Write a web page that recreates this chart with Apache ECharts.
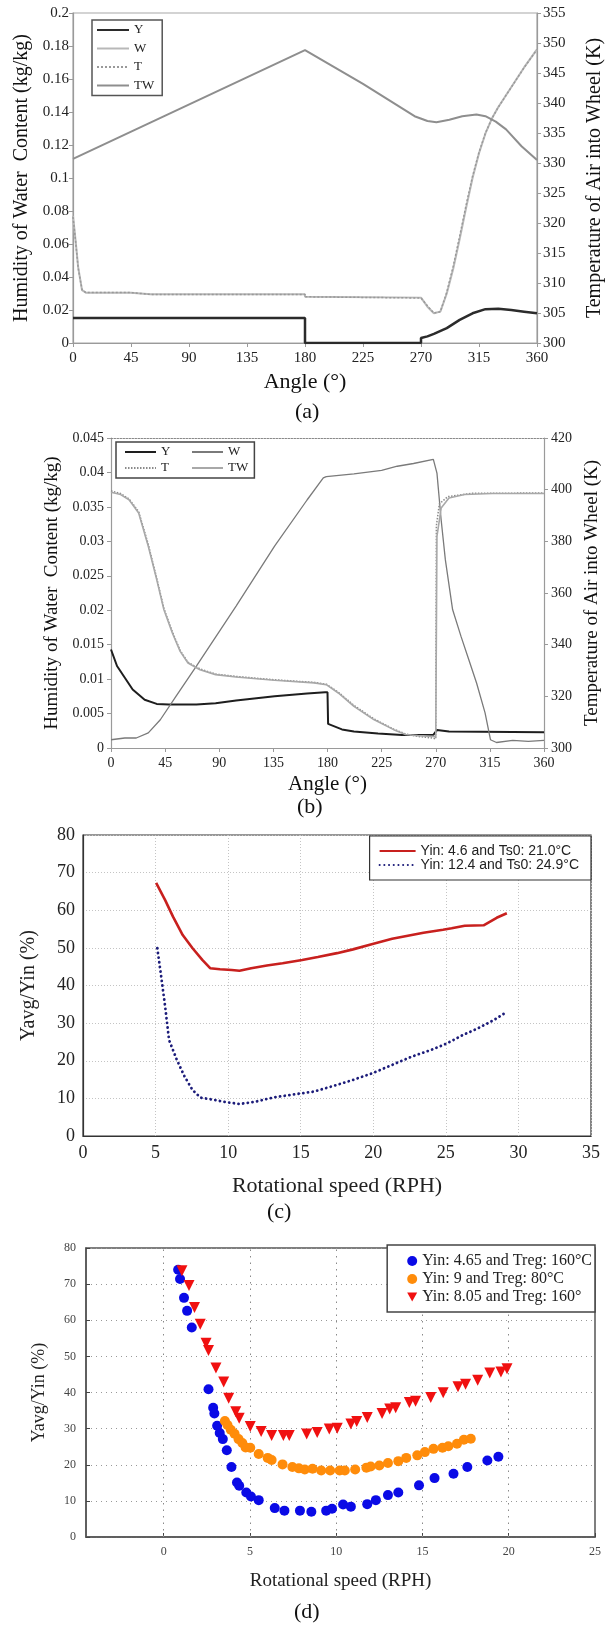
<!DOCTYPE html>
<html>
<head>
<meta charset="utf-8">
<script src="https://cdn.jsdelivr.net/npm/echarts@6/dist/echarts.min.js"></script>
<style>
html,body{margin:0;padding:0;background:#fff;}
#chart{width:613px;height:1625px;}
</style>
</head>
<body>
<div id="chart"></div>
<script>
// ---------- Panel (a) ----------
const aYAngle = [0, 180, 180, 270, 270, 275, 280, 290, 300, 310, 320, 330, 340, 350, 360];
const aYVal = [0.0152, 0.0152, 0, 0, 0.003, 0.004, 0.0055, 0.009, 0.014, 0.018, 0.0205, 0.0207, 0.020, 0.019, 0.018];
const aWAngle = [0, 2, 4, 7, 10, 45, 60, 180, 180, 270, 275, 280, 285, 290, 295, 300, 305, 310, 315, 320, 325, 330, 340, 350, 360];
const aWVal = [0.077, 0.062, 0.046, 0.032, 0.0305, 0.0305, 0.0295, 0.0295, 0.0280, 0.0275, 0.022, 0.018, 0.019, 0.030, 0.045, 0.063, 0.082, 0.100, 0.115, 0.127, 0.136, 0.143, 0.155, 0.167, 0.178];
const aTAngle = [0, 2, 4, 7, 10, 45, 60, 180, 180, 270, 275, 280, 285, 290, 295, 300, 305, 310, 315, 320, 325, 330, 340, 350, 360];
const aTVal = [321.0, 317.0, 312.5, 308.9, 308.4, 308.4, 308.1, 308.1, 307.7, 307.5, 306.2, 305.0, 305.2, 308.5, 312.8, 317.8, 323.0, 327.8, 331.8, 335.0, 337.4, 339.3, 342.6, 345.9, 348.9];
const aTWAngle = [0, 180, 225, 265, 275, 282, 292, 302, 313, 320, 328, 336, 348, 360];
const aTWVal = [330.7, 348.8, 343.2, 337.8, 337.0, 336.8, 337.2, 337.8, 338.1, 337.8, 336.9, 335.6, 332.8, 330.5];

// ---------- Panel (b) ----------
const bYAngle = [0, 5, 11.5, 18, 28, 38, 48, 71, 87, 104, 136, 163, 178, 180, 180.5, 192, 202, 222, 242, 268, 269.5, 271, 281, 360];
const bYVal = [0.0143, 0.0119, 0.0102, 0.0085, 0.0070, 0.0064, 0.0063, 0.0063, 0.0065, 0.0069, 0.0075, 0.0079, 0.0081, 0.0081, 0.0035, 0.0027, 0.0024, 0.0021, 0.0019, 0.0019, 0.0017, 0.0026, 0.0024, 0.0023];
const bWAngle = [0, 11.5, 21, 31, 41, 54, 71, 104, 136, 163, 176.5, 179, 202, 225, 238, 251.5, 268, 269, 271, 274.5, 278, 284, 291, 297.5, 304, 311, 315.5, 320.5, 334, 347, 360];
const bWVal = [0.0012, 0.00145, 0.00145, 0.0022, 0.0041, 0.0075, 0.0119, 0.0206, 0.0293, 0.036, 0.0392, 0.0394, 0.0398, 0.0403, 0.0409, 0.0413, 0.0419, 0.0418, 0.0399, 0.0331, 0.0273, 0.0201, 0.0162, 0.0128, 0.0094, 0.0051, 0.0012, 0.0008, 0.0011, 0.00097, 0.0011];
const bTWAngle = [0, 8, 15, 23, 31, 38, 44, 51, 57.5, 64, 74, 87, 104, 136, 169, 179, 189, 202, 218.5, 235, 245, 255, 268, 270, 271, 274.5, 281, 294, 317, 360];
const bTWVal = [399.0, 398.1, 396.1, 391.0, 378.1, 365.2, 353.5, 344.5, 337.4, 332.9, 330.3, 328.4, 327.5, 326.2, 325.2, 324.5, 321.3, 316.1, 311.0, 307.1, 305.2, 304.8, 304.5, 304.3, 381.9, 392.9, 396.8, 398.1, 398.5, 398.5];
const bTAngle = [0, 8, 15, 23, 31, 38, 44, 51, 57.5, 64, 74, 87, 104, 136, 169, 179, 189, 202, 218.5, 235, 245, 255, 268, 270, 270.5, 273, 280, 300, 360];
const bTVal = [399.5, 398.5, 396.4, 391.5, 378.8, 365.8, 354.0, 345.0, 337.8, 333.2, 330.6, 328.6, 327.7, 326.4, 325.4, 324.7, 321.6, 316.5, 311.3, 307.3, 305.4, 304.5, 303.8, 303.5, 386.0, 394.5, 397.3, 398.6, 398.7];

// ---------- Panel (c) ----------
const cRedName = 'Yin: 4.6 and Ts0: 21.0°C';
const cBlueName = 'Yin: 12.4 and Ts0: 24.9°C';
const cRedX = [5.04, 5.66, 6.2, 6.87, 7.55, 8.22, 8.76, 9.44, 10.25, 10.78, 11.59, 12.67, 13.75, 15.1, 16.18, 17.5, 18.6, 19.95, 21.3, 22.38, 23.46, 24.8, 25.4, 26.3, 27.6, 28.5, 29.2];
const cRedY = [67.3, 62.7, 58.3, 53.4, 49.9, 46.8, 44.6, 44.3, 44.1, 43.9, 44.6, 45.3, 45.9, 46.8, 47.6, 48.6, 49.6, 51.0, 52.4, 53.2, 54.0, 54.8, 55.2, 55.9, 56.0, 58.0, 59.2];
const cBlueX = [5.12, 5.39, 5.66, 5.93, 6.47, 7.0, 7.55, 8.09, 8.9, 9.7, 10.78, 11.86, 13.2, 14.8, 15.9, 17.25, 18.6, 19.95, 21.3, 22.65, 24.0, 25.07, 26.15, 27.2, 28.3, 29.2];
const cBlueY = [49.9, 42.3, 34.4, 25.5, 20.2, 15.8, 12.2, 10.2, 9.7, 9.1, 8.5, 9.1, 10.3, 11.2, 11.8, 13.3, 14.9, 16.7, 18.9, 21.1, 22.9, 24.6, 26.8, 28.6, 30.8, 33.0];

// ---------- Panel (d) ----------
const dBlueName = 'Yin: 4.65 and Treg: 160°C';
const dOrangeName = 'Yin: 9 and Treg: 80°C';
const dRedName = 'Yin: 8.05 and Treg: 160°';
const dBlueX = [0.84, 0.95, 1.18, 1.36, 1.63, 2.6, 2.87, 2.94, 3.1, 3.25, 3.43, 3.66, 3.93, 4.25, 4.38, 4.79, 5.06, 5.51, 6.44, 7.0, 7.9, 8.56, 9.42, 9.76, 10.4, 10.85, 11.8, 12.3, 13.0, 13.6, 14.8, 15.7, 16.8, 17.6, 18.76, 19.4];
const dBlueY = [74.0, 71.4, 66.2, 62.6, 58.0, 40.9, 35.8, 34.2, 30.8, 28.8, 27.1, 24.0, 19.4, 15.1, 14.2, 12.3, 11.2, 10.2, 8.0, 7.3, 7.3, 7.0, 7.3, 7.8, 9.0, 8.4, 9.1, 10.2, 11.6, 12.3, 14.3, 16.3, 17.5, 19.4, 21.2, 22.2];
const dOrangeX = [3.55, 3.7, 3.89, 4.11, 4.34, 4.56, 4.75, 5.02, 5.51, 6.03, 6.26, 6.89, 7.46, 7.84, 8.18, 8.63, 9.13, 9.65, 10.2, 10.5, 11.1, 11.75, 12.0, 12.5, 13.0, 13.6, 14.06, 14.7, 15.14, 15.64, 16.16, 16.5, 17.0, 17.4, 17.8];
const dOrangeY = [32.1, 31.0, 29.7, 28.6, 27.1, 26.0, 24.8, 24.7, 23.0, 21.9, 21.3, 20.1, 19.4, 19.0, 18.7, 18.9, 18.4, 18.4, 18.4, 18.4, 18.7, 19.2, 19.5, 19.8, 20.5, 21.0, 21.9, 22.6, 23.5, 24.4, 24.7, 25.1, 25.8, 26.9, 27.2];
const dRedX = [1.06, 1.47, 1.79, 2.12, 2.46, 2.6, 3.03, 3.48, 3.77, 4.18, 4.38, 5.02, 5.65, 6.26, 6.94, 7.28, 8.29, 8.9, 9.6, 10.06, 10.85, 11.19, 11.8, 12.66, 13.1, 13.45, 14.24, 14.6, 15.48, 16.2, 17.06, 17.5, 18.2, 18.9, 19.55, 19.9];
const dRedY = [73.7, 69.6, 63.5, 58.9, 53.6, 51.6, 46.8, 42.9, 38.4, 34.7, 32.9, 30.6, 29.2, 28.1, 28.1, 28.1, 28.5, 28.9, 29.9, 30.1, 31.3, 32.0, 33.1, 34.2, 35.4, 35.8, 37.2, 37.6, 38.6, 39.9, 41.6, 42.3, 43.4, 45.4, 45.7, 46.6];
const dXTicks = [0, 5, 10, 15, 20, 25];
const dXGridLines = [0, 5, 10, 15, 20];

const zip = (xs, ys) => xs.map((x, i) => [x, ys[i]]);
const SERIF = 'Liberation Serif';
const SANS = 'Liberation Sans';
const stripName = n => n.replace(/^[ab]_/, '');
const DOWN_TRIANGLE = 'path://M0,0 L10,0 L5,9 Z';

const chart = echarts.init(document.getElementById('chart'), null, {renderer: 'canvas'});

const grayAxis = {onZero: false, lineStyle: {color: '#9a9a9a', width: 1.2}};
const grayTick = {show: true, length: 4, lineStyle: {color: '#9a9a9a'}};
const lblA = {fontFamily: SERIF, fontSize: 15, color: '#222'};
const nameA = {fontFamily: SERIF, fontSize: 20, color: '#111'};
const hideSym = {opacity: 0};

const option = {
  animation: false,
  backgroundColor: '#fff',
  title: [
    {text: '(a)', left: 295, top: 401, padding: 0, textStyle: {fontFamily: SERIF, fontSize: 22, fontWeight: 'normal', color: '#111'}},
    {text: '(b)', left: 297, top: 796, padding: 0, textStyle: {fontFamily: SERIF, fontSize: 22, fontWeight: 'normal', color: '#111'}},
    {text: '(c)', left: 267, top: 1201, padding: 0, textStyle: {fontFamily: SERIF, fontSize: 22, fontWeight: 'normal', color: '#111'}},
    {text: '(d)', left: 294, top: 1601, padding: 0, textStyle: {fontFamily: SERIF, fontSize: 22, fontWeight: 'normal', color: '#111'}}
  ],
  grid: [
    {left: 73, top: 13, width: 471, height: 330, show: true, borderColor: '#a8a8a8', borderWidth: 1.2},
    {left: 111, top: 438, width: 433, height: 310},
    {left: 83, top: 835, width: 508, height: 301, show: true, borderColor: '#333', borderWidth: 1.2},
    {left: 86, top: 1248, width: 509, height: 289, show: true, borderColor: '#555', borderWidth: 1.5}
  ],
  legend: [
    {data: ['a_Y', 'a_W', 'a_T', 'a_TW'], formatter: stripName, orient: 'vertical', left: 92, top: 20,
     itemWidth: 32, itemHeight: 14, itemGap: 4.5, padding: [3, 8, 3, 4], borderColor: '#555', borderWidth: 1.5,
     itemStyle: hideSym, textStyle: {fontFamily: SERIF, fontSize: 13, color: '#222', lineHeight: 14}},
    {data: ['b_Y', 'b_T'], formatter: stripName, orient: 'vertical', left: 116, top: 442,
     itemWidth: 31, itemHeight: 14, itemGap: 2, padding: [3, 84, 3, 8], borderColor: '#444', borderWidth: 1.5,
     itemStyle: hideSym, textStyle: {fontFamily: SERIF, fontSize: 13, color: '#222', lineHeight: 14}},
    {data: ['b_W', 'b_TW'], formatter: stripName, orient: 'vertical', left: 191, top: 445,
     itemWidth: 31, itemHeight: 14, itemGap: 2, padding: 0,
     itemStyle: hideSym, textStyle: {fontFamily: SERIF, fontSize: 13, color: '#222', lineHeight: 14}},
    {data: [cRedName, cBlueName], orient: 'vertical', right: 22, top: 836,
     itemWidth: 36, itemHeight: 12, itemGap: 0, padding: [8, 12, 8, 9], borderColor: '#333', borderWidth: 1.2,
     itemStyle: hideSym, backgroundColor: '#fff', textStyle: {fontFamily: SANS, fontSize: 14, color: '#222', lineHeight: 12.5}},
    {data: [dBlueName, dOrangeName, {name: dRedName, icon: DOWN_TRIANGLE}], orient: 'vertical', right: 18, top: 1245,
     itemWidth: 10, itemHeight: 10, itemGap: 2, padding: [8, 3, 7, 20], borderColor: '#444', borderWidth: 1.5,
     backgroundColor: '#fff', textStyle: {fontFamily: SERIF, fontSize: 16, color: '#222', lineHeight: 14.5}}
  ],
  xAxis: [
    {gridIndex: 0, type: 'value', min: 0, max: 360, interval: 45, name: 'Angle (°)', nameLocation: 'middle', nameGap: 28,
     nameTextStyle: {fontFamily: SERIF, fontSize: 22, color: '#111'}, axisLine: grayAxis, axisTick: grayTick,
     axisLabel: Object.assign({margin: 8}, lblA), splitLine: {show: false}},
    {gridIndex: 1, type: 'value', min: 0, max: 360, interval: 45, name: 'Angle (°)', nameLocation: 'middle', nameGap: 26,
     nameTextStyle: {fontFamily: SERIF, fontSize: 21, color: '#111'}, axisLine: grayAxis, axisTick: grayTick,
     axisLabel: {margin: 8, fontFamily: SERIF, fontSize: 14, color: '#222'}, splitLine: {show: false}},
    {gridIndex: 2, type: 'value', min: 0, max: 35, interval: 5, name: 'Rotational speed (RPH)', nameLocation: 'middle', nameGap: 39,
     nameTextStyle: {fontFamily: SERIF, fontSize: 22, color: '#222'},
     axisLine: {onZero: false, lineStyle: {color: '#333', width: 1.2}}, axisTick: {show: false},
     axisLabel: {margin: 8, fontFamily: SERIF, fontSize: 18, color: '#222'},
     splitLine: {show: true, lineStyle: {color: '#c4c4c4', type: [1, 2]}}},
    {gridIndex: 3, type: 'value', min: -4.5, max: 25, name: 'Rotational speed (RPH)', nameLocation: 'middle', nameGap: 35,
     nameTextStyle: {fontFamily: SERIF, fontSize: 19, color: '#222'},
     axisLine: {onZero: false, lineStyle: {color: '#555', width: 1.5}},
     axisTick: {show: true, inside: true, length: 4, customValues: dXTicks, lineStyle: {color: '#444'}},
     axisLabel: {margin: 9, fontFamily: SERIF, fontSize: 12, color: '#444', customValues: dXTicks},
     splitLine: {show: false}},
    {gridIndex: 1, type: 'value', min: 0, max: 360, position: 'top',
     axisLine: {show: true, onZero: false, lineStyle: {color: '#888', type: [1.5, 1.5], width: 1.2}},
     axisTick: {show: false}, axisLabel: {show: false}, splitLine: {show: false}}
  ],
  yAxis: [
    {gridIndex: 0, type: 'value', min: 0, max: 0.2, interval: 0.02, name: 'Humidity of Water  Content (kg/kg)',
     nameLocation: 'middle', nameGap: 40, nameTextStyle: nameA, axisLine: Object.assign({show: true}, grayAxis), axisTick: grayTick,
     axisLabel: Object.assign({margin: 4}, lblA), splitLine: {show: false}},
    {gridIndex: 0, type: 'value', min: 300, max: 355, interval: 5, position: 'right', name: 'Temperature of Air into Wheel (K)',
     nameLocation: 'middle', nameGap: 48, nameRotate: 90, nameTextStyle: nameA, axisLine: Object.assign({show: true}, grayAxis), axisTick: grayTick,
     axisLabel: Object.assign({margin: 6}, lblA), splitLine: {show: false}},
    {gridIndex: 1, type: 'value', min: 0, max: 0.045, interval: 0.005, name: 'Humidity of Water  Content (kg/kg)',
     nameLocation: 'middle', nameGap: 46, nameTextStyle: {fontFamily: SERIF, fontSize: 19, color: '#111'},
     axisLine: Object.assign({show: true}, grayAxis), axisTick: grayTick,
     axisLabel: {margin: 7, fontFamily: SERIF, fontSize: 14, color: '#222'}, splitLine: {show: false}},
    {gridIndex: 1, type: 'value', min: 300, max: 420, interval: 20, position: 'right', name: 'Temperature of Air into Wheel (K)',
     nameLocation: 'middle', nameGap: 38, nameRotate: 90, nameTextStyle: {fontFamily: SERIF, fontSize: 19, color: '#111'},
     axisLine: Object.assign({show: true}, grayAxis), axisTick: grayTick,
     axisLabel: {margin: 7, fontFamily: SERIF, fontSize: 14, color: '#222'}, splitLine: {show: false}},
    {gridIndex: 2, type: 'value', min: 0, max: 80, interval: 10, name: 'Yavg/Yin (%)', nameLocation: 'middle', nameGap: 44,
     nameTextStyle: {fontFamily: SERIF, fontSize: 20, color: '#222'},
     axisLine: {show: true, onZero: false, lineStyle: {color: '#333', width: 1.2}}, axisTick: {show: false},
     axisLabel: {margin: 8, fontFamily: SERIF, fontSize: 18, color: '#222'},
     splitLine: {show: true, lineStyle: {color: '#c4c4c4', type: [1, 2]}}},
    {gridIndex: 3, type: 'value', min: 0, max: 80, interval: 10, name: 'Yavg/Yin (%)', nameLocation: 'middle', nameGap: 38,
     nameTextStyle: {fontFamily: SERIF, fontSize: 18, color: '#222'},
     axisLine: {show: true, onZero: false, lineStyle: {color: '#555', width: 1.5}},
     axisTick: {show: true, inside: true, length: 4, lineStyle: {color: '#444'}},
     axisLabel: {margin: 10, fontFamily: SERIF, fontSize: 12, color: '#444'},
     splitLine: {show: true, lineStyle: {color: '#999', type: [1, 4]}}}
  ],
  series: [
    {name: 'a_Y', type: 'line', xAxisIndex: 0, yAxisIndex: 0, data: zip(aYAngle, aYVal), symbol: 'none', lineStyle: {color: '#2b2b2b', width: 2.5}, itemStyle: {color: '#2b2b2b'}},
    {name: 'a_W', type: 'line', xAxisIndex: 0, yAxisIndex: 0, data: zip(aWAngle, aWVal), symbol: 'none', lineStyle: {color: '#b8b8b8', width: 2}, itemStyle: {color: '#b8b8b8'}},
    {name: 'a_T', type: 'line', xAxisIndex: 0, yAxisIndex: 1, data: zip(aTAngle, aTVal), symbol: 'none', lineStyle: {color: '#999', width: 1.5, type: [2, 2]}, itemStyle: {color: '#999'}},
    {name: 'a_TW', type: 'line', xAxisIndex: 0, yAxisIndex: 1, data: zip(aTWAngle, aTWVal), symbol: 'none', lineStyle: {color: '#8e8e8e', width: 2}, itemStyle: {color: '#8e8e8e'}},
    {name: 'b_Y', type: 'line', xAxisIndex: 1, yAxisIndex: 2, data: zip(bYAngle, bYVal), symbol: 'none', lineStyle: {color: '#1e1e1e', width: 2}, itemStyle: {color: '#1e1e1e'}},
    {name: 'b_W', type: 'line', xAxisIndex: 1, yAxisIndex: 2, data: zip(bWAngle, bWVal), symbol: 'none', lineStyle: {color: '#7a7a7a', width: 1.3}, itemStyle: {color: '#7a7a7a'}},
    {name: 'b_T', type: 'line', xAxisIndex: 1, yAxisIndex: 3, data: zip(bTAngle, bTVal), symbol: 'none', lineStyle: {color: '#8a8a8a', width: 1.5, type: [1.5, 1.5]}, itemStyle: {color: '#8a8a8a'}},
    {name: 'b_TW', type: 'line', xAxisIndex: 1, yAxisIndex: 3, data: zip(bTWAngle, bTWVal), symbol: 'none', lineStyle: {color: '#a8a8a8', width: 1.6}, itemStyle: {color: '#a8a8a8'}},
    {name: cRedName, type: 'line', xAxisIndex: 2, yAxisIndex: 4, data: zip(cRedX, cRedY), symbol: 'none', lineStyle: {color: '#c8201e', width: 2.6}, itemStyle: {color: '#c8201e'}},
    {name: cBlueName, type: 'line', xAxisIndex: 2, yAxisIndex: 4, data: zip(cBlueX, cBlueY), symbol: 'none', lineStyle: {color: '#1c1c7a', width: 2.8, type: [0.1, 4.6], cap: 'round'}, itemStyle: {color: '#1c1c7a'}},
    {name: dBlueName, type: 'scatter', xAxisIndex: 3, yAxisIndex: 5, data: zip(dBlueX, dBlueY), symbol: 'circle', symbolSize: 10, itemStyle: {color: '#0a0ae6', opacity: 1},
     markLine: {silent: true, symbol: 'none', label: {show: false}, animation: false, z: 1,
       lineStyle: {color: '#8a8a8a', type: [1.5, 5], width: 1}, data: dXGridLines.map(v => ({xAxis: v}))}},
    {name: dOrangeName, type: 'scatter', xAxisIndex: 3, yAxisIndex: 5, data: zip(dOrangeX, dOrangeY), symbol: 'circle', symbolSize: 10, itemStyle: {color: '#ff8c0a', opacity: 1}},
    {name: dRedName, type: 'scatter', xAxisIndex: 3, yAxisIndex: 5, data: zip(dRedX, dRedY), symbol: 'triangle', symbolRotate: 180, symbolSize: 11, itemStyle: {color: '#f01010', opacity: 1}}
  ]
};
chart.setOption(option);
</script>
</body>
</html>
